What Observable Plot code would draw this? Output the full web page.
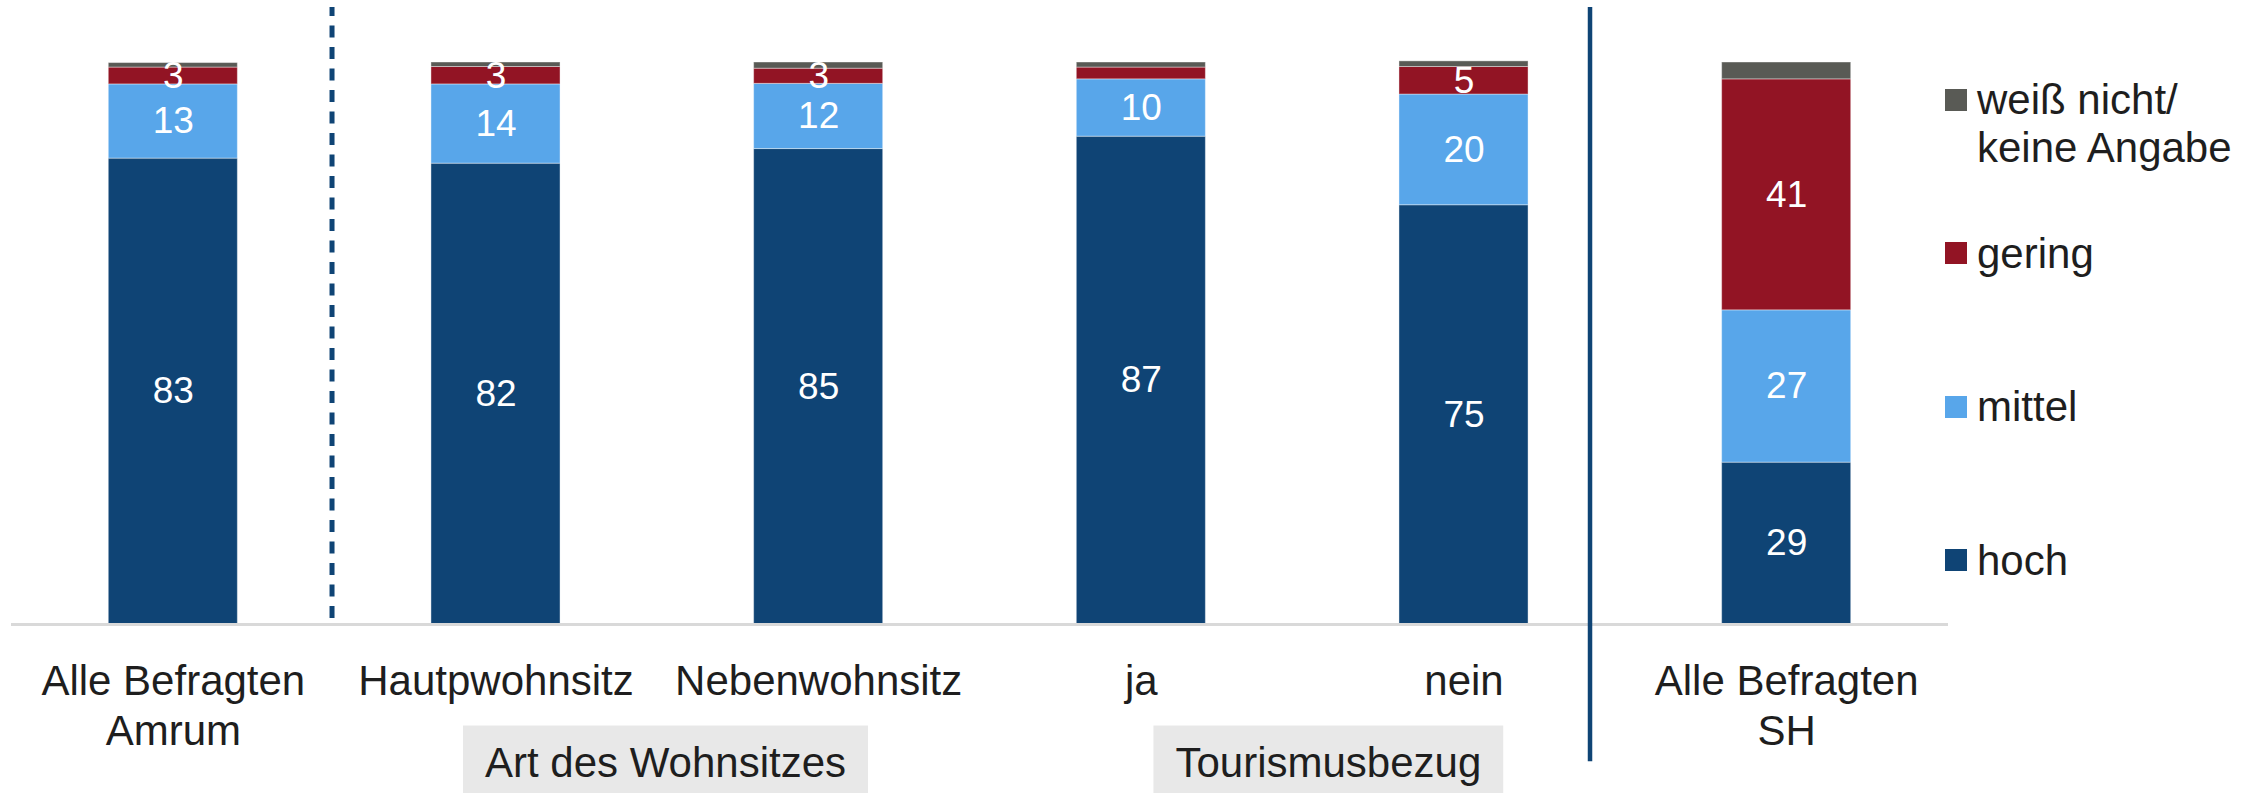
<!DOCTYPE html>
<html><head><meta charset="utf-8">
<script src="https://cdn.jsdelivr.net/npm/d3@7"></script>
<script src="https://cdn.jsdelivr.net/npm/@observablehq/plot@0.6"></script>
<style>
html,body{margin:0;padding:0;background:#fff;}
#wrap{position:relative;width:2265px;height:793px;font-family:"Liberation Sans",Arial,sans-serif;overflow:hidden;}
#legend{position:absolute;left:1945px;top:0;width:320px;height:793px;}
.item{position:absolute;left:0;font-size:42px;line-height:48px;color:#1e1e1e;white-space:pre;}
.sw{position:absolute;left:0;top:12.6px;width:22px;height:22px;}
.lt{position:absolute;left:32px;top:0;}
</style></head><body><div id="wrap"><div id="legend"></div></div>
<script>
// ---- data ----
const categories = ["Alle Befragten\nAmrum", "Hautpwohnsitz", "Nebenwohnsitz", "ja", "nein", "Alle Befragten\nSH"];
const series = ["hoch", "mittel", "gering", "weiß nicht/\nkeine Angabe"];
const hoch       = [82.9, 82.0, 84.6, 86.8, 74.6, 28.8];
const mittel     = [13.2, 14.1, 11.6, 10.2, 19.7, 27.1];
const gering     = [3.0, 3.1, 2.7, 2.1, 4.9, 41.1];
const weissNicht = [0.8, 0.8, 1.1, 0.9, 1.0, 3.0];
const groupWohnsitz = ["Art des Wohnsitzes"];
const groupTourismus = ["Tourismusbezug"];
const colors = ["#0f4475", "#58a6ea", "#921424", "#595a55"];

const seriesValues = [hoch, mittel, gering, weissNicht];
const data = [];
categories.forEach((c, i) => {
  series.forEach((s, j) => data.push({category: c, series: s, value: seriesValues[j][i]}));
});
const showLabel = d => d.series !== series[3] && d.value >= 2.5;

const font = '"Liberation Sans", Arial, sans-serif';
const chart = Plot.plot({
  width: 2265, height: 793,
  marginLeft: 11, marginRight: 317, marginTop: 62, marginBottom: 169,
  x: {domain: categories, axis: null, paddingInner: 0.6, paddingOuter: 0.3015, round: false},
  y: {domain: [0, 100], axis: null},
  color: {domain: series, range: colors},
  style: {fontFamily: font, background: "transparent", overflow: "visible"},
  marks: [
    Plot.barY(data, {x: "category", y: "value", fill: "series", stroke: "#ffffff", strokeOpacity: 0.4, strokeWidth: 1}),
    Plot.text(data, Plot.stackY({x: "category", y: "value", z: "series",
      text: d => showLabel(d) ? String(Math.round(d.value)) : "",
      fill: "white", fontSize: 37})),
    Plot.ruleY([0], {stroke: "#d9d9d9", strokeWidth: 3}),
    Plot.ruleX([categories[0]], {y1: 1.07, y2: 109.8, dx: 158.7, stroke: "#0f4475", strokeWidth: 5, strokeDasharray: "12,9.5"}),
    Plot.ruleX([categories[4]], {y1: -24.4, y2: 109.8, dx: 126, stroke: "#0f4475", strokeWidth: 4.5}),
    Plot.text(categories, {x: d => d, text: d => d, frameAnchor: "bottom", lineAnchor: "top", dy: 35,
      fontSize: 42, lineHeight: 1.19, fill: "#1e1e1e"}),
    Plot.text(groupWohnsitz, {x: () => categories[1], text: d => d, frameAnchor: "bottom", lineAnchor: "top",
      dy: 122.2, dx: 169.5, fontSize: 42, fill: "#1e1e1e", ariaLabel: "group-label"}),
    Plot.text(groupTourismus, {x: () => categories[3], text: d => d, frameAnchor: "bottom", lineAnchor: "top",
      dy: 122.2, dx: 187, fontSize: 42, fill: "#1e1e1e", ariaLabel: "group-label"})
  ]
});
const wrap = document.getElementById("wrap");
wrap.insertBefore(chart, wrap.firstChild);
chart.style.position = "absolute"; chart.style.left = "0"; chart.style.top = "0";

// grey boxes behind the group labels
const sRect = chart.getBoundingClientRect();
const groupTexts = [...chart.querySelectorAll("text")].filter(t => groupWohnsitz.concat(groupTourismus).includes(t.textContent));
groupTexts.forEach(t => {
  const r = t.getBoundingClientRect();
  const rect = document.createElementNS("http://www.w3.org/2000/svg", "rect");
  rect.setAttribute("x", r.left - sRect.left - 22);
  rect.setAttribute("y", r.top - sRect.top - 13);
  rect.setAttribute("width", r.width + 44);
  rect.setAttribute("height", r.height + 30);
  rect.setAttribute("fill", "#e8e8e8");
  chart.insertBefore(rect, chart.firstChild.nextSibling);
});

// legend (top to bottom: reversed series order)
const legend = document.getElementById("legend");
series.slice().reverse().forEach((s, k) => {
  const item = document.createElement("div");
  item.className = "item";
  item.style.top = (76.4 + k * 153.5) + "px";
  const sw = document.createElement("div");
  sw.className = "sw";
  sw.style.background = colors[series.indexOf(s)];
  const lt = document.createElement("div");
  lt.className = "lt";
  lt.textContent = s;
  item.appendChild(sw); item.appendChild(lt);
  legend.appendChild(item);
});
</script></body></html>
